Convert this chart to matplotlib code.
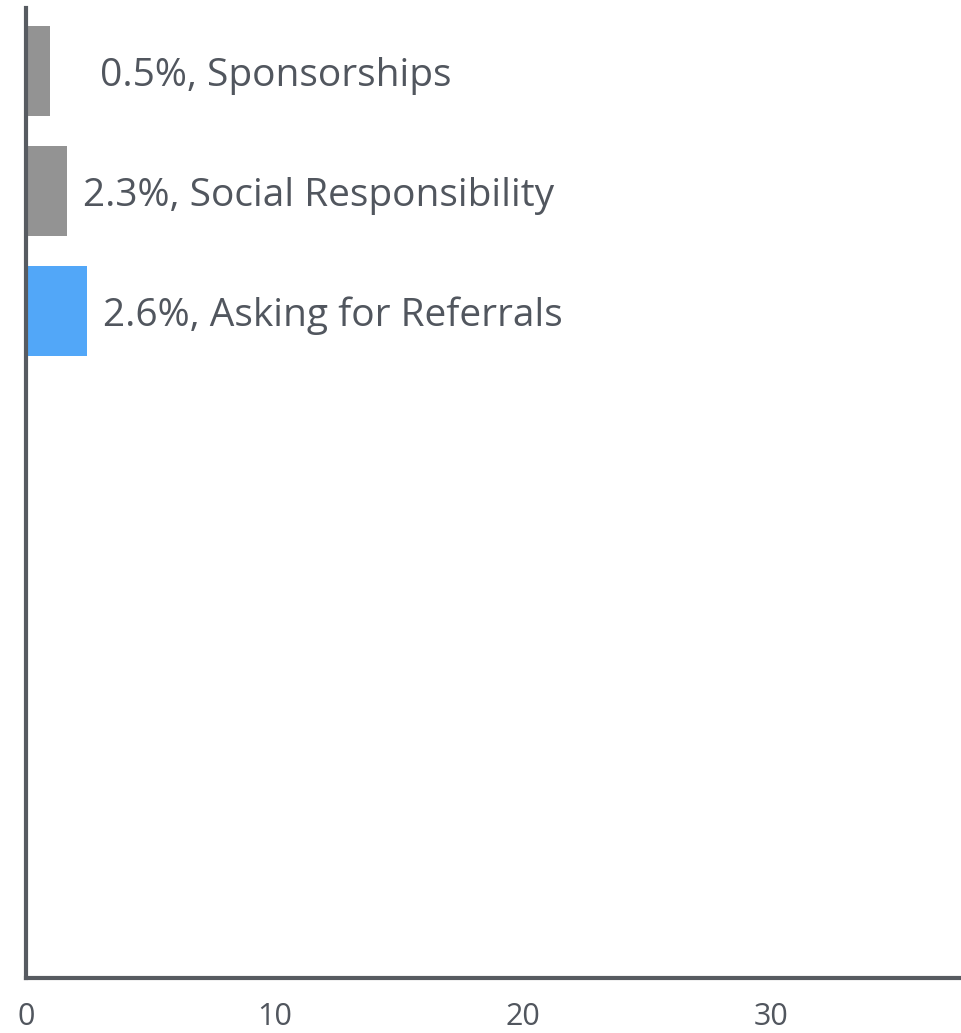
import matplotlib
matplotlib.use("Agg")
import matplotlib.pyplot as plt

# Data (top to bottom)
categories = ["Sponsorships", "Social Responsibility", "Asking for Referrals"]
bar_values = [0.85, 1.55, 2.35]
label_pcts = ["0.5%", "2.3%", "2.6%"]
xticks = [0, 10, 20, 30]

bar_colors = ["#939393", "#939393", "#52a7f8"]
label_offsets = [50, 16, 16]  # pixels after bar end
text_color = "#51565e"
axis_color = "#575b61"

W, H, DPI = 961, 1033, 100
fig = plt.figure(figsize=(W / DPI, H / DPI), dpi=DPI)
ax = fig.add_axes([26 / W, (H - 978) / H, (960 - 26) / W, (978 - 8) / H])

positions = list(range(len(categories)))
ax.barh(positions, bar_values, height=0.75, color=bar_colors, left=0.1)

for p, v, pct, cat, off in zip(positions, bar_values, label_pcts, categories, label_offsets):
    ax.annotate(f"{pct}, {cat}", xy=(v + 0.1, p), xytext=(off * 72 / DPI, -5 * 72 / DPI),
                textcoords="offset points", va="center", ha="left",
                fontsize=28, color=text_color, family="Open Sans")

ax.set_xlim(0, 37.6)
ax.set_ylim(7.56, -0.525)
ax.set_yticks([])
ax.set_xticks(xticks)
ax.set_xticklabels([str(t) for t in xticks], fontsize=22, color=text_color,
                   family=["Liberation Sans Narrow", "Open Sans"])
ax.tick_params(axis="x", length=0, pad=17)

for s in ["top", "right"]:
    ax.spines[s].set_visible(False)
for s in ["left", "bottom"]:
    ax.spines[s].set_color(axis_color)
    ax.spines[s].set_linewidth(3)

fig.savefig("out.png", dpi=DPI)
